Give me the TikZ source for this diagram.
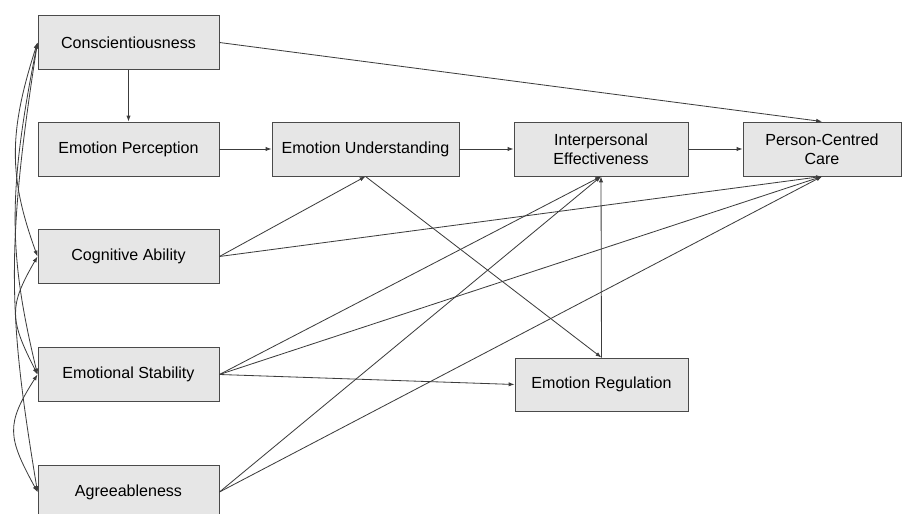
\documentclass[tikz,border=0pt]{standalone}
\usepackage{fontspec}
\setmainfont{Liberation Sans}
\usetikzlibrary{arrows.meta}
\definecolor{boxfill}{HTML}{E6E6E6}
\definecolor{boxline}{HTML}{4A4A4A}
\definecolor{lineclr}{HTML}{3C3C3C}
\begin{document}
\begin{tikzpicture}[x=0.03cm,y=-0.03cm,
  box/.style={draw=boxline, fill=boxfill, line width=0.8pt, minimum height=1.62cm,
    inner sep=0pt, align=center, font=\fontsize{13.7}{16.2}\selectfont},
  arr/.style={draw=lineclr, line width=0.7pt, -{Latex[length=5pt,width=3.6pt]}},
  corr/.style={draw=lineclr, line width=0.7pt, {Latex[length=5pt,width=3.6pt]}-{Latex[length=5pt,width=3.6pt]}}]
\useasboundingbox (0,0) rectangle (902,514);
\clip (0,0) rectangle (902,514);
\fill[white] (0,0) rectangle (902,514);
% nodes
\node[box, minimum width=5.43cm] (C)  at (128.5,42.5) {Conscientiousness};
\node[box, minimum width=5.43cm] (EP) at (128.5,149)  {Emotion Perception};
\node[box, minimum width=5.43cm] (CA) at (128.5,256.5) {Cognitive Ability};
\node[box, minimum width=5.43cm] (ES) at (128.5,374.5) {Emotional Stability};
\node[box, minimum width=5.43cm] (AG) at (128.5,492)  {Agreeableness};
\node[box, minimum width=5.61cm] (EU) at (365.5,149)  {Emotion Understanding};
\node[box, minimum width=5.22cm] (IE) at (601,149)    {Interpersonal\\Effectiveness};
\node[box, minimum width=4.74cm] (PCC) at (822,149)   {Person-Centred\\Care};
\node[box, minimum width=5.19cm, minimum height=1.59cm] (ER) at (601.5,384.5) {Emotion Regulation};
% directed paths
\draw[arr] (C.east) -- (PCC.north);
\draw[arr] (C.south) -- (EP.north);
\draw[arr] (EP.east) -- (EU.west);
\draw[arr] (EU.east) -- (IE.west);
\draw[arr] (IE.east) -- (PCC.west);
\draw[arr] (CA.east) -- (EU.south);
\draw[arr] (CA.east) -- (PCC.south);
\draw[arr] (EU.south) -- (ER.north);
\draw[arr] (ER.north) -- (IE.south);
\draw[arr] (ES.east) -- (IE.south);
\draw[arr] (ES.east) -- (PCC.south);
\draw[arr] (ES.east) -- (ER.west);
\draw[arr] (AG.east) -- (IE.south);
\draw[arr] (AG.east) -- (PCC.south);
% correlations
\draw[corr] (C.west) .. controls +(-29,90) and +(-29,-80) .. (CA.west);
\draw[corr] (C.west) .. controls +(-30,150) and +(-29,-120) .. (ES.west);
\draw[corr] (C.west) .. controls +(-33,210) and +(-28,-170) .. (AG.west);
\draw[corr] (CA.west) .. controls +(-29,50) and +(-28,-55) .. (ES.west);
\draw[corr] (ES.west) .. controls +(-32,50) and +(-30,-55) .. (AG.west);
\end{tikzpicture}
\end{document}
